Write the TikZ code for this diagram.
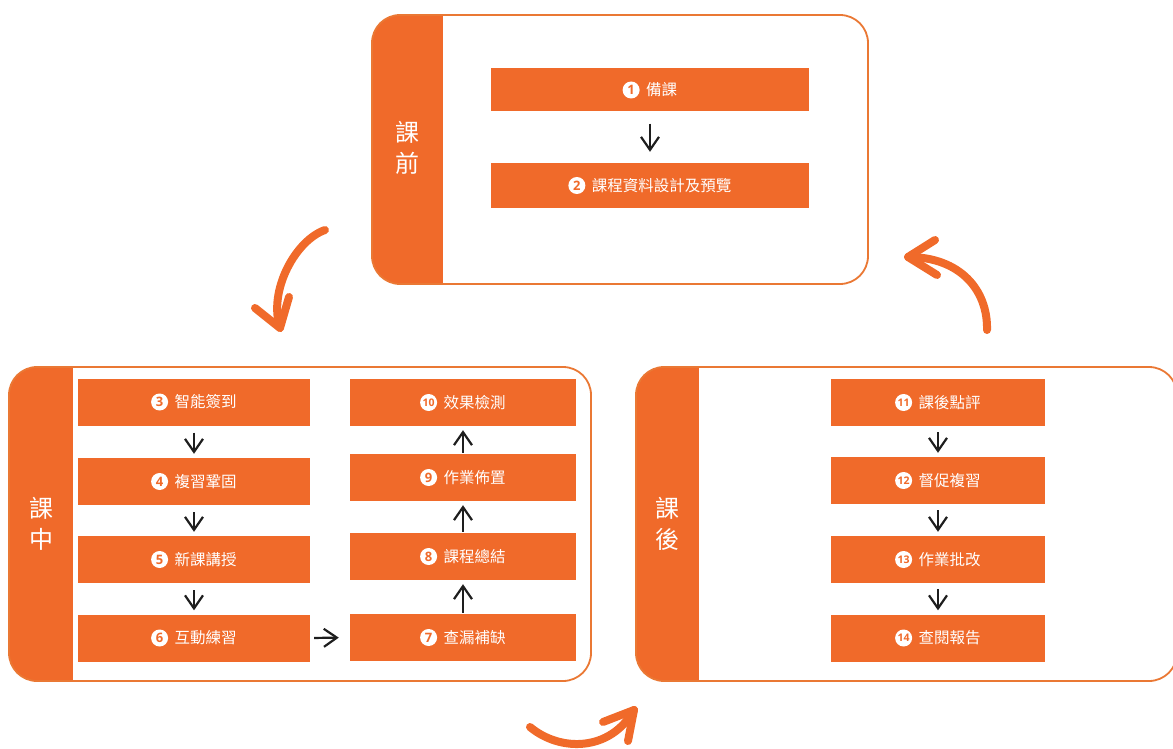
\documentclass[tikz,border=0pt]{standalone}
\usepackage{fontspec}
\newfontfamily\cjk{Noto Sans CJK TC}
\newfontfamily\numfont{Open Sans}
\usetikzlibrary{arrows.meta}

\definecolor{brand}{RGB}{240,106,42}
\definecolor{rim}{RGB}{234,120,52}
\definecolor{ink}{RGB}{30,30,30}

\tikzset{
  panel/.style={draw=rim, line width=1.8pt, rounded corners=28pt, fill=white,
    path picture={\fill[brand, sharp corners] (path picture bounding box.north west)
      rectangle ([xshift=#1]path picture bounding box.south west);}},
  phase/.style={text=white, align=center, font=\cjk\fontsize{24}{31}\selectfont},
  task/.style={fill=brand, draw=none, inner sep=0pt},
  tasktext/.style={text=white, inner sep=0pt, font=\cjk\fontsize{15.5}{16}\selectfont},
  disc/.style={circle, fill=white, inner sep=0pt, minimum size=17pt, anchor=east,
    text=brand, font=\numfont\bfseries\fontsize{13}{13}\selectfont},
  flow/.style={draw=ink, line width=2.2pt, -{Straight Barb[length=13pt,width=18pt]}},
  sweep/.style={draw=brand, line width=8pt, line cap=round, line join=round},
}

% a filled step box with a numbered disc followed by its caption
% #1 name, #2 x, #3 y, #4 box style, #5 number, #6 caption
\newcommand\stepbox[6]{%
  \node[#4] (#1) at (#2,#3) {};
  \node[tasktext] (#1t) at ([xshift=11.5pt]#1.center) {#6};
  \node[disc] (#1n) at ([xshift=-6pt]#1t.west) {#5};}
\newcommand\two[1]{{\fontsize{10.5}{10.5}\selectfont #1}}

\begin{document}
\begin{tikzpicture}[x=1pt,y=-1pt]
\useasboundingbox (0,0) rectangle (1173,749);

% ---- phase panels ----
\node[panel=71pt, minimum width=496pt, minimum height=269pt] (pre) at (620,149.5) {};
\node[panel=64pt, minimum width=582pt, minimum height=314pt] (mid) at (300,524) {};
\node[panel=63pt, minimum width=541pt, minimum height=314pt] (post) at (906.5,524) {};

\node[phase] (lpre)  at (407.5,148) {課\\前};
\node[phase] (lmid)  at (41,524)    {課\\中};
\node[phase] (lpost) at (667.5,524) {課\\後};

\tikzset{colT/.style={task, minimum width=318pt, minimum height=43pt},
         colA/.style={task, minimum width=232pt, minimum height=47pt},
         colB/.style={task, minimum width=226pt, minimum height=47pt},
         colC/.style={task, minimum width=214pt, minimum height=47pt}}

% ---- before class ----
\stepbox{b1}{650}{90}{colT}{1}{備課}
\stepbox{b2}{650}{185.5}{colT, minimum height=45pt}{2}{課程資料設計及預覽}

% ---- in class ----
\stepbox{b3}{194}{402}{colA}{3}{智能簽到}
\stepbox{b4}{194}{481.5}{colA}{4}{複習鞏固}
\stepbox{b5}{194}{559.5}{colA}{5}{新課講授}
\stepbox{b6}{194}{638}{colA}{6}{互動練習}
\stepbox{b7}{463}{637.5}{colB}{7}{查漏補缺}
\stepbox{b8}{463}{556.5}{colB}{8}{課程總結}
\stepbox{b9}{463}{477.5}{colB}{9}{作業佈置}
\stepbox{b10}{463}{402.5}{colB}{\two{10}}{效果檢測}

% ---- after class ----
\stepbox{b11}{938}{402.5}{colC}{\two{11}}{課後點評}
\stepbox{b12}{938}{480.5}{colC}{\two{12}}{督促複習}
\stepbox{b13}{938}{559.5}{colC}{\two{13}}{作業批改}
\stepbox{b14}{938}{638}{colC}{\two{14}}{查閱報告}

% ---- step connectors ----
\draw[flow, shorten <=12pt, shorten >=11pt] (b1.south) -- (b2.north);
\draw[flow, shorten <=7pt, shorten >=4pt] (b3.south) -- (b4.north);
\draw[flow, shorten <=7pt, shorten >=4pt] (b4.south) -- (b5.north);
\draw[flow, shorten <=7pt, shorten >=4pt] (b5.south) -- (b6.north);
\draw[flow, shorten <=4pt, shorten >=11pt] (b6.east) -- (b7.west);
\draw[flow, shorten <=1pt, shorten >=4pt] (b7.north) -- (b8.south);
\draw[flow, shorten <=1pt, shorten >=4pt] (b8.north) -- (b9.south);
\draw[flow, shorten <=1pt, shorten >=4pt] (b9.north) -- (b10.south);
\draw[flow, shorten <=6pt, shorten >=4pt] (b11.south) -- (b12.north);
\draw[flow, shorten <=6pt, shorten >=4pt] (b12.south) -- (b13.north);
\draw[flow, shorten <=6pt, shorten >=4pt] (b13.south) -- (b14.north);

% ---- cycle arrows between phases ----
\coordinate (s1) at (325,230);  \coordinate (h1) at (280,328);
\coordinate (k1a) at (255,308); \coordinate (k1b) at (289,297);
\draw[sweep] (s1) .. controls (296,240) and (268,290) .. (h1);
\draw[sweep] (k1a) -- (h1) -- (k1b);

\coordinate (s2) at (530,727);  \coordinate (h2) at (634,710);
\coordinate (k2a) at (603,722); \coordinate (k2b) at (628,741);
\draw[sweep] (s2) .. controls (560,752) and (610,752) .. (h2);
\draw[sweep] (k2a) -- (h2) -- (k2b);

\coordinate (s3) at (987,330);  \coordinate (h3) at (908,257);
\coordinate (k3a) at (935,240); \coordinate (k3b) at (937,275);
\draw[sweep] (s3) .. controls (988,290) and (960,257) .. (h3);
\draw[sweep] (k3a) -- (h3) -- (k3b);
\end{tikzpicture}
\end{document}
